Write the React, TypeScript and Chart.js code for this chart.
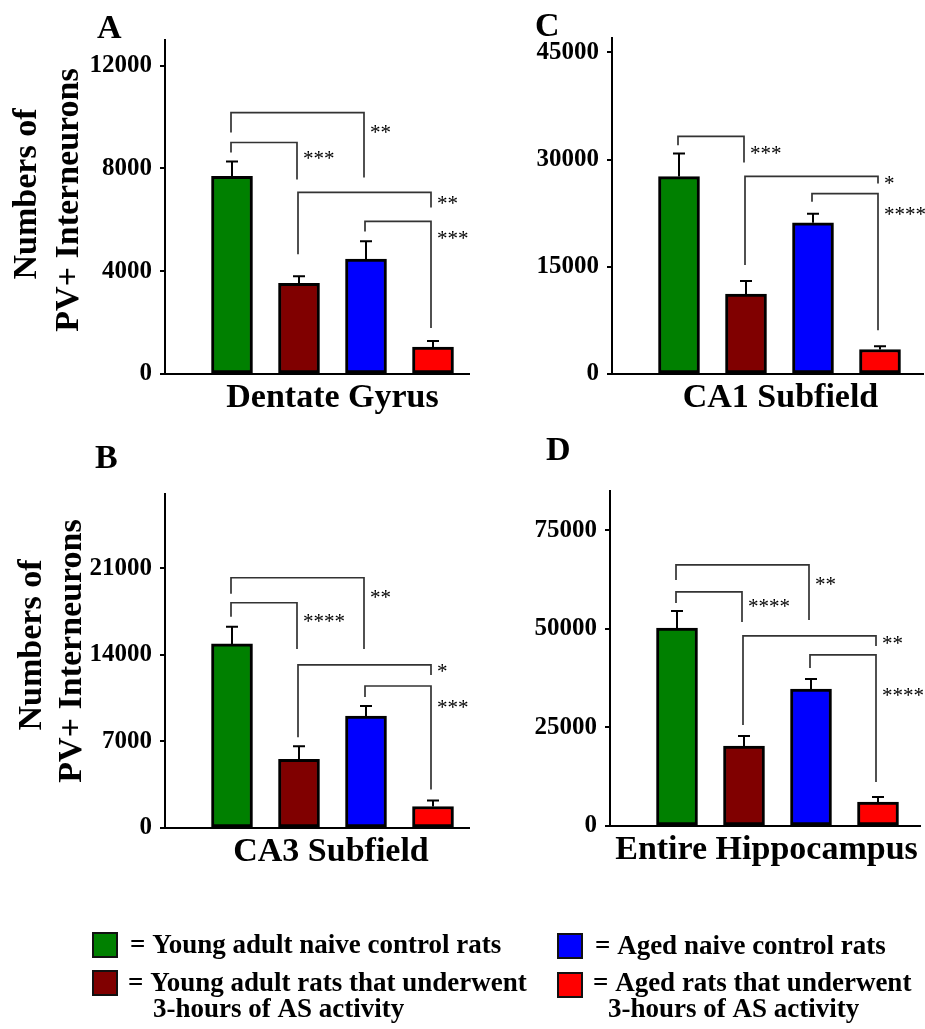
import React, { useEffect, useRef } from 'react';
import { Chart, registerables } from 'chart.js';

Chart.register(...registerables);

// ---------- data ----------
const groups = [
  'Young adult naive control rats',
  'Young adult rats that underwent 3-hours of AS activity',
  'Aged naive control rats',
  'Aged rats that underwent 3-hours of AS activity',
];
const barColors = ['#008000', '#800000', '#0000FF', '#FF0000'];

const legendLines = [
  ['= Young adult naive control rats'],
  ['= Young adult rats that underwent', '3-hours of AS activity'],
  ['= Aged naive control rats'],
  ['= Aged rats that underwent', '3-hours of AS activity'],
];

// Dentate Gyrus (A)
const dentateMeans = [7690, 3530, 4470, 1050];
const dentateErrors = [580, 270, 700, 230];
const dentateTicks = [0, 4000, 8000, 12000];
// [fromBar, toBar, bracketTop, leftLegEnd, rightLegEnd, labelCenter, label]
const dentateBrackets = [
  [0, 2, 10175, 9400, 7650, 9550, '**'],
  [0, 1, 9010, 8620, 7570, 8540, '***'],
  [1, 3, 7070, 4660, 6485, 6760, '**'],
  [2, 3, 5940, 5550, 1790, 5400, '***'],
];

// CA1 Subfield (C)
const ca1Means = [27620, 11180, 21160, 3430];
const ca1Errors = [3240, 1820, 1260, 440];
const ca1Ticks = [0, 15000, 30000, 45000];
const ca1Brackets = [
  [0, 1, 33250, 31990, 29600, 31280, '***'],
  [1, 3, 27630, 15250, 26640, 27070, '*'],
  [2, 3, 25240, 24110, 6110, 22850, '****'],
];

// CA3 Subfield (B)
const ca3Means = [14880, 5560, 9040, 1740];
const ca3Errors = [1380, 1050, 820, 490];
const ca3Ticks = [0, 7000, 14000, 21000];
const ca3Brackets = [
  [0, 2, 20230, 18940, 14480, 18940, '**'],
  [0, 1, 18210, 17070, 14480, 16990, '****'],
  [1, 3, 13180, 7340, 12370, 12940, '*'],
  [2, 3, 11480, 10580, 3120, 10020, '***'],
];

// Entire Hippocampus (D)
const hippoMeans = [50250, 20300, 34770, 6090];
const hippoErrors = [4320, 2540, 2540, 1270];
const hippoTicks = [0, 25000, 50000, 75000];
const hippoBrackets = [
  [0, 2, 66240, 62430, 52280, 62180, '**'],
  [0, 1, 59390, 56600, 51780, 56600, '****'],
  [1, 3, 48220, 25630, 45680, 47210, '**'],
  [2, 3, 43400, 40100, 11170, 34010, '****'],
];

const SERIF = '"Liberation Serif", "Times New Roman", Times, serif';

type PanelProps = {
  left: number; top: number; width: number; height: number;
  padTop: number; padRight: number; yAxisWidth: number; xAxisHeight: number;
  xMax: number; yMax: number; ticks: number[];
  means: number[]; errors: number[]; brackets: any[];
  letter: string; letterX: number; letterY: number;
  xTitle: string; xTitleX: number; xTitleY: number;
  yTitle: boolean; yTitleX: number[]; yTitleY: number[];
};

function Panel(p: PanelProps) {
  const ref = useRef<HTMLCanvasElement | null>(null);
  useEffect(() => {
    const overlay = {
      id: 'overlay',
      afterDatasetsDraw(chart: any) {
        const ctx = chart.ctx as CanvasRenderingContext2D;
        const xs = chart.scales.x;
        const ys = chart.scales.y;
        ctx.save();
        // error bars
        ctx.strokeStyle = '#000';
        ctx.lineWidth = 2;
        p.means.forEach((m, i) => {
          const x = xs.getPixelForValue(i + 1);
          const y0 = ys.getPixelForValue(m);
          const y1 = ys.getPixelForValue(m + p.errors[i]);
          ctx.beginPath();
          ctx.moveTo(x, y0);
          ctx.lineTo(x, y1);
          ctx.moveTo(x - 6, y1);
          ctx.lineTo(x + 6, y1);
          ctx.stroke();
        });
        // significance brackets
        ctx.strokeStyle = '#333';
        ctx.lineWidth = 1.7;
        ctx.fillStyle = '#000';
        ctx.font = `normal 21px ${SERIF}`;
        ctx.textAlign = 'left';
        ctx.textBaseline = 'alphabetic';
        p.brackets.forEach((b) => {
          const [from, to, top, lEnd, rEnd, labelAt, label] = b;
          const xl = xs.getPixelForValue(from + 1) - 1;
          const xr = xs.getPixelForValue(to + 1) - 2;
          const yt = ys.getPixelForValue(top);
          ctx.beginPath();
          ctx.moveTo(xl, ys.getPixelForValue(lEnd));
          ctx.lineTo(xl, yt);
          ctx.lineTo(xr, yt);
          ctx.lineTo(xr, ys.getPixelForValue(rEnd));
          ctx.stroke();
          ctx.fillText(label, xr + 6, ys.getPixelForValue(labelAt) + 10);
        });
        ctx.restore();
      },
      afterDraw(chart: any) {
        const ctx = chart.ctx as CanvasRenderingContext2D;
        ctx.save();
        ctx.fillStyle = '#000';
        ctx.textBaseline = 'alphabetic';
        ctx.font = `bold 34px ${SERIF}`;
        ctx.textAlign = 'left';
        ctx.fillText(p.letter, p.letterX, p.letterY);
        ctx.textAlign = 'center';
        ctx.fillText(p.xTitle, p.xTitleX, p.xTitleY);
        if (p.yTitle) {
          const lines = ['Numbers of', 'PV+ Interneurons'];
          lines.forEach((t, i) => {
            ctx.save();
            ctx.translate(p.yTitleX[i], p.yTitleY[i]);
            ctx.rotate(-Math.PI / 2);
            ctx.textAlign = 'center';
            ctx.fillText(t, 0, 0);
            ctx.restore();
          });
        }
        ctx.restore();
      },
    };

    const chart = new Chart(ref.current as HTMLCanvasElement, {
      type: 'bar',
      data: {
        datasets: [
          {
            label: 'Numbers of PV+ Interneurons',
            data: p.means.map((m, i) => ({ x: i + 1, y: m })),
            backgroundColor: barColors,
            borderColor: '#000',
            borderWidth: 3,
            borderSkipped: false,
            barThickness: 41,
          },
        ],
      },
      options: {
        animation: false,
        responsive: false,
        maintainAspectRatio: false,
        devicePixelRatio: 1,
        layout: { padding: { top: p.padTop, right: p.padRight, left: 0, bottom: 0 } },
        plugins: { legend: { display: false }, tooltip: { enabled: false } },
        scales: {
          x: {
            type: 'linear',
            offset: false,
            min: 0,
            max: p.xMax,
            ticks: { display: false },
            grid: { display: false, drawTicks: false, offset: false },
            border: { display: true, color: '#000', width: 2 },
            afterFit: (s: any) => { s.height = p.xAxisHeight; },
          },
          y: {
            type: 'linear',
            min: 0,
            max: p.yMax,
            afterBuildTicks: (s: any) => { s.ticks = p.ticks.map((v) => ({ value: v })); },
            ticks: {
              color: '#000',
              padding: 8,
              font: { family: SERIF, size: 25, weight: 'bold' },
              callback: (v: any) => String(v),
            },
            grid: { display: true, drawOnChartArea: false, drawTicks: true, tickLength: 5, color: '#000', lineWidth: 2 },
            border: { display: true, color: '#000', width: 2 },
            afterFit: (s: any) => { s.width = p.yAxisWidth; },
          },
        },
      },
      plugins: [overlay],
    } as any);
    return () => chart.destroy();
  }, []);
  return (
    <canvas
      ref={ref}
      width={p.width}
      height={p.height}
      style={{ position: 'absolute', left: p.left, top: p.top, width: p.width, height: p.height }}
    />
  );
}

function Legend() {
  const ref = useRef<HTMLCanvasElement | null>(null);
  useEffect(() => {
    const c = ref.current as HTMLCanvasElement;
    const ctx = c.getContext('2d') as CanvasRenderingContext2D;
    ctx.clearRect(0, 0, c.width, c.height);
    const oy = 880;
    const boxes = [
      { x: 92, y: 932, tx: [130], ty: [953] },
      { x: 92, y: 970, tx: [128, 153], ty: [991, 1017] },
      { x: 557, y: 933, tx: [595], ty: [954] },
      { x: 557, y: 972, tx: [593, 608], ty: [991, 1017] },
    ];
    boxes.forEach((b, i) => {
      ctx.fillStyle = barColors[i];
      ctx.fillRect(b.x, b.y - oy, 26, 26);
      ctx.strokeStyle = '#111';
      ctx.lineWidth = 2;
      ctx.strokeRect(b.x + 1, b.y - oy + 1, 24, 24);
      ctx.fillStyle = '#000';
      ctx.font = `bold 27px ${SERIF}`;
      ctx.textAlign = 'left';
      ctx.textBaseline = 'alphabetic';
      legendLines[i].forEach((t, j) => ctx.fillText(t, b.tx[j], b.ty[j] - oy));
    });
  }, []);
  return (
    <canvas
      ref={ref}
      width={925}
      height={149}
      aria-label={groups.join('; ')}
      style={{ position: 'absolute', left: 0, top: 880, width: 925, height: 149 }}
    />
  );
}

export default function App() {
  return (
    <div style={{ position: 'absolute', left: 0, top: 0, width: 925, height: 1029, background: '#fff', overflow: 'hidden' }}>
      <Panel
        left={0} top={0} width={470} height={420}
        padTop={40} padRight={0} yAxisWidth={165} xAxisHeight={46}
        xMax={305 / 67} yMax={13000} ticks={dentateTicks}
        means={dentateMeans} errors={dentateErrors} brackets={dentateBrackets}
        letter="A" letterX={97} letterY={38}
        xTitle="Dentate Gyrus" xTitleX={332.5} xTitleY={407}
        yTitle={true} yTitleX={[36, 78]} yTitleY={[194, 200]}
      />
      <Panel
        left={470} top={0} width={455} height={420}
        padTop={38} padRight={2} yAxisWidth={142} xAxisHeight={46}
        xMax={311 / 67} yMax={47000} ticks={ca1Ticks}
        means={ca1Means} errors={ca1Errors} brackets={ca1Brackets}
        letter="C" letterX={65} letterY={36}
        xTitle="CA1 Subfield" xTitleX={310.5} xTitleY={407}
        yTitle={false} yTitleX={[0, 0]} yTitleY={[0, 0]}
      />
      <Panel
        left={0} top={420} width={470} height={460}
        padTop={74} padRight={0} yAxisWidth={165} xAxisHeight={52}
        xMax={305 / 67} yMax={27000} ticks={ca3Ticks}
        means={ca3Means} errors={ca3Errors} brackets={ca3Brackets}
        letter="B" letterX={95} letterY={48}
        xTitle="CA3 Subfield" xTitleX={331} xTitleY={441}
        yTitle={true} yTitleX={[41, 81]} yTitleY={[225, 231]}
      />
      <Panel
        left={470} top={420} width={455} height={460}
        padTop={71} padRight={5} yAxisWidth={140} xAxisHeight={54}
        xMax={310 / 67} yMax={85000} ticks={hippoTicks}
        means={hippoMeans} errors={hippoErrors} brackets={hippoBrackets}
        letter="D" letterX={76} letterY={40}
        xTitle="Entire Hippocampus" xTitleX={296.5} xTitleY={439}
        yTitle={false} yTitleX={[0, 0]} yTitleY={[0, 0]}
      />
      <Legend />
    </div>
  );
}
